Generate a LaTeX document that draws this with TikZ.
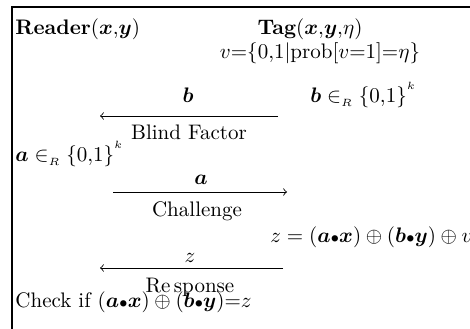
\documentclass[tikz,border=0pt]{standalone}
\usepackage{amsmath,bm}
\newcommand{\dotop}{{\scriptstyle\bullet}}
\begin{document}
\begin{tikzpicture}[x=0.016723cm,y=-0.016723cm,
  lbl/.style={inner sep=0pt,anchor=base},
  lblw/.style={inner sep=0pt,anchor=base west},
  msg/.style={->,line width=0.4pt}]
\useasboundingbox (0,0) rectangle (470,329);
\draw[line width=0.5pt] (470,7) -- (12,7) -- (12,329);
\node[lblw] (reader) at (15,35) {\textbf{Reader}$(\bm{x}{,}\bm{y})$};
\node[lbl] (tag) at (310,35) {\textbf{Tag}$(\bm{x}{,}\bm{y}{,}\eta)$};
\node[lbl] (v) at (320,59) {$v{=}\{0{,}1|\mathrm{prob}[v{=}1]{=}\eta\}$};
\node[lblw] (bgen) at (310,103) {$\bm{b}\in_{\scriptscriptstyle R}\{0{,}1\}^{^k}$};
\coordinate (b1) at (278,116);
\coordinate (b0) at (100,116);
\draw[msg] (b1) -- (b0);
\node[lbl] (blab) at (188,103) {$\bm{b}$};
\node[lbl] (bf) at (189,140) {Blind Factor};
\node[lblw] (agen) at (15,162) {$\bm{a}\in_{\scriptscriptstyle R}\{0{,}1\}^{^k}$};
\coordinate (a0) at (113,192);
\coordinate (a1) at (287,192);
\draw[msg] (a0) -- (a1);
\node[lbl] (alab) at (201,184) {$\bm{a}$};
\node[lbl] (ch) at (197,216) {Challenge};
\node[lblw] (zgen) at (270,242) {$z=(\bm{a}\dotop\bm{x})\oplus(\bm{b}\dotop\bm{y})\oplus v$};
\coordinate (z1) at (283,268);
\coordinate (z0) at (100,268);
\draw[msg] (z1) -- (z0);
\node[lbl] (zlab) at (190,262) {$z$};
\node[lbl] (resp) at (190,292) {Re\,sponse};
\node[lblw] (chk) at (15,307) {Check if $(\bm{a}\dotop\bm{x})\oplus(\bm{b}\dotop\bm{y}){=}z$};
\end{tikzpicture}
\end{document}
